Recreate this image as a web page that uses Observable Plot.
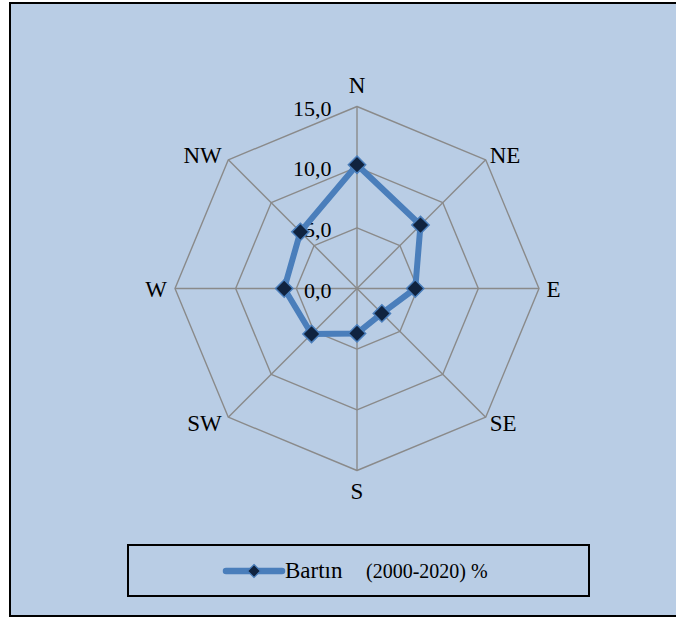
<!DOCTYPE html>
<html>
<head>
<meta charset="utf-8">
<script src="https://cdn.jsdelivr.net/npm/d3@7"></script>
<script src="https://cdn.jsdelivr.net/npm/@observablehq/plot@0.6"></script>
<style>
  html, body { margin: 0; padding: 0; background: #ffffff; overflow: hidden; width: 676px; height: 619px; }
  #frame {
    position: absolute; left: 9px; top: 2px; width: 700px; height: 611px;
    background: #b9cde5; border: 2px solid #000; border-right: none;
  }
  #chart { position: absolute; left: 0; top: 0; }
  #legend {
    position: absolute; left: 127px; top: 544px; width: 463px; height: 53px;
    box-sizing: border-box; border: 2px solid #000;
  }
  #legend svg { position: absolute; left: 0; top: 0; }
</style>
</head>
<body>
<div id="frame"></div>
<div id="chart"></div>
<div id="legend"></div>
<script>
// Wind directions and their frequency (%)
const directions = ["N", "NE", "E", "SE", "S", "SW", "W", "NW"];
const frequency = [10.2, 7.4, 4.8, 2.9, 3.7, 5.3, 6.0, 6.6];
// Radial axis
const ringValues = [5, 10, 15];
const tickValues = [0, 5, 10, 15];
const tickLabels = ["0,0", "5,0", "10,0", "15,0"];
// Legend
const seriesName = "Bartın";
const seriesPeriod = "(2000-2020) %";

const maxValue = 15;
const W = 676, H = 530, cx = 356.5, cy = 288, R = 182;
const k = R / maxValue; // pixels per unit

const ang = i => i * Math.PI / 4;
const px = (r, i) => r * Math.sin(ang(i));
const py = (r, i) => r * Math.cos(ang(i));

const gridColor = "#8a8a8a";
const lineColor = "#4a7ebb";
const markColor = "#10233f";

// pick the first installed serif face
function pickSerif() {
  const ctx = document.createElement("canvas").getContext("2d");
  const sample = "NW 15,0 Bartın (2000-2020) %";
  const width = f => { ctx.font = `40px ${f}`; return ctx.measureText(sample).width; };
  const mono = width("monospace"), sans = width("sans-serif");
  for (const f of ["'Liberation Serif'", "Tinos", "'Times New Roman'", "'DejaVu Serif'", "'Noto Serif'"]) {
    const wm = width(`${f}, monospace`), ws = width(`${f}, sans-serif`);
    if (Math.abs(wm - mono) > 0.5 || Math.abs(ws - sans) > 0.5) return f;
  }
  return "serif";
}
const serif = pickSerif() + ", serif";

// polygon rings
const rings = ringValues.flatMap(v =>
  d3.range(directions.length + 1).map(j => ({ring: v, x: px(v, j % directions.length), y: py(v, j % directions.length)}))
);
// spokes
const spokes = directions.map((d, i) => ({x1: 0, y1: 0, x2: px(maxValue, i), y2: py(maxValue, i)}));
// series points
const points = frequency.map((v, i) => ({dir: directions[i], value: v, x: px(v, i), y: py(v, i)}));
const closed = [...points, points[0]];

// direction labels, nudged away from each vertex
function labelOffset(i) {
  const s = Math.sin(ang(i)), c = Math.cos(ang(i));
  if (Math.abs(s) < 0.1) return [0, c > 0 ? -20.5 : 21];
  const dx = s > 0 ? (Math.abs(c) < 0.1 ? 7.5 : 4) : (Math.abs(c) < 0.1 ? -8 : -6.5);
  const dy = c > 0.1 ? -4 : (c < -0.1 ? 6 : 1);
  return [dx, dy];
}
const dirLabels = directions.map((d, i) => {
  const [ox, oy] = labelOffset(i);
  const s = Math.sin(ang(i));
  return {
    text: d,
    anchor: s > 0.1 ? "start" : s < -0.1 ? "end" : "middle",
    x: px(maxValue, i) + ox / k,
    y: py(maxValue, i) - oy / k
  };
});
const ticks = tickValues.map((v, i) => ({value: v, label: tickLabels[i]}));

const chart = Plot.plot({
  width: W,
  height: H,
  margin: 0,
  style: {background: "transparent", fontFamily: serif, overflow: "visible"},
  x: {domain: [-cx / k, (W - cx) / k], range: [0, W], axis: null},
  y: {domain: [-(H - cy) / k, cy / k], range: [H, 0], axis: null},
  marks: [
    Plot.line(rings, {x: "x", y: "y", z: "ring", stroke: gridColor, strokeWidth: 1.4}),
    Plot.link(spokes, {x1: "x1", y1: "y1", x2: "x2", y2: "y2", stroke: gridColor, strokeWidth: 1.4}),
    Plot.text(ticks, {x: () => 0, y: "value", text: "label", textAnchor: "end", dx: -25.5, dy: 2, fontSize: 22, fill: "#000"}),
    Plot.line(closed, {x: "x", y: "y", stroke: lineColor, strokeWidth: 6, strokeLinejoin: "round", strokeLinecap: "round"}),
    Plot.dot(points, {x: "x", y: "y", symbol: "diamond2", r: 7.8, fill: markColor, stroke: lineColor, strokeWidth: 1.5}),
    ...["start", "middle", "end"].map(a =>
      Plot.text(dirLabels.filter(l => l.anchor === a), {x: "x", y: "y", text: "text", textAnchor: a, fontSize: 23, fill: "#000"})
    )
  ]
});
document.getElementById("chart").appendChild(chart);

// legend: line swatch with marker, then series name and period
const lg = d3.select("#legend").append("svg").attr("width", 459).attr("height", 49)
  .style("font-family", serif);
lg.append("line").attr("x1", 97).attr("x2", 153).attr("y1", 25).attr("y2", 25)
  .attr("stroke", lineColor).attr("stroke-width", 6.5).attr("stroke-linecap", "round");
lg.append("path").attr("d", "M125,18.5L131.5,25L125,31.5L118.5,25Z")
  .attr("fill", markColor).attr("stroke", lineColor).attr("stroke-width", 1.2);
lg.append("text").attr("x", 156).attr("y", 32).attr("font-size", 23).attr("fill", "#000").text(seriesName);
lg.append("text").attr("x", 237).attr("y", 32).attr("font-size", 20).attr("fill", "#000").text(seriesPeriod);
</script>
</body>
</html>
